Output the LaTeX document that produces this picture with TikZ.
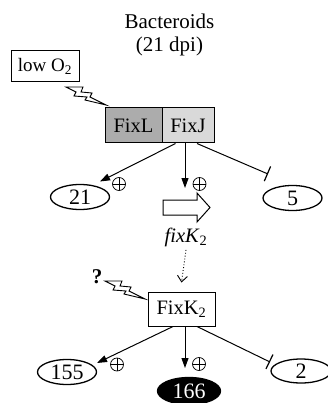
\documentclass[tikz,border=0pt]{standalone}
\usepackage{fontspec}
\setmainfont{Liberation Serif}
\usetikzlibrary{arrows.meta,shapes.geometric,calc}

\begin{document}
\begin{tikzpicture}[x=1pt,y=-1pt,
  lbl/.style={font=\fontsize{20.5}{22}\selectfont},
  boxnode/.style={draw, line width=1pt, inner sep=0pt, lbl},
  oval/.style={ellipse, draw, line width=1.3pt, inner sep=0pt, font=\fontsize{22}{24}\selectfont},
  act/.style={line width=1pt, -{Triangle[length=10pt,width=7pt]}},
  inh/.style={line width=1pt, -{Bar[width=16pt,line width=1.2pt]}},
  sign/.style={circle, draw, line width=0.7pt, minimum size=13pt, inner sep=0pt,
    path picture={\draw[line width=0.7pt]
      (path picture bounding box.north) -- (path picture bounding box.south)
      (path picture bounding box.west) -- (path picture bounding box.east);}},
  bolt/.pic={\draw[line width=0.9pt, fill=white, line join=miter]
    (0,0) -- (17,0) -- (15,5) -- (26,6) -- (24,10) -- (40,18) -- (19,13)
    -- (21,10) -- (8,9) -- (10,5) -- cycle;}
]
\useasboundingbox (0,0) rectangle (328,403);

% title
\node[font=\fontsize{21}{23}\selectfont] (title) at (169.5,21) {Bacteroids};
\node[font=\fontsize{21}{23}\selectfont] (dpi) at (169.5,46) {(21 dpi)};

% oxygen signal and the FixL/FixJ pair
\node[boxnode, minimum width=68pt, minimum height=31pt, font=\fontsize{19}{21}\selectfont] (o2) at (45,66.5) {low O\textsubscript{2}};
\pic at (66,87) {bolt};
\node[boxnode, fill=gray!65, minimum width=57pt, minimum height=35pt] (fixl) at (133.5,125.5) {FixL};
\node[boxnode, fill=gray!30, minimum width=52pt, minimum height=35pt] (fixj) at (188,125.5) {FixJ};

% first-level targets
\node[oval, minimum width=59pt, minimum height=25pt] (e21) at (80,197) {21};
\node[oval, minimum width=59pt, minimum height=25pt] (e5) at (292.5,198) {5};

% fixK2 gene
\draw[line width=1pt, fill=white, line join=miter]
  (163,200) -- (197,200) -- (197,193) -- (210,207.5) -- (197,222) -- (197,215) -- (163,215) -- cycle;
\coordinate (genetop) at (185,188);
\node[lbl] (gene) at (186,237) {\textit{fixK}\textsubscript{2}};

% FixK2 protein
\node[boxnode, minimum width=67pt, minimum height=34pt] (fixk) at (181.5,309) {FixK\textsubscript{2}};
\node[font=\bfseries\fontsize{21}{21}\selectfont] (q) at (97,277) {?};
\pic at (105,281) {bolt};

% second-level targets
\node[oval, minimum width=59pt, minimum height=25pt] (e155) at (67,372) {155};
\node[oval, minimum width=63pt, minimum height=27pt, fill=black, text=white] (e166) at (189,391) {166};
\node[oval, minimum width=60pt, minimum height=24pt] (e2) at (301,371) {2};

% regulation by FixJ
\draw[act] ($(fixj.south west)+(14,0)$) -- ($(e21.center)+(20,-15.5)$);
\draw[act] ($(fixj.south)+(-3,0)$) -- (genetop);
\draw[inh] ($(fixj.south)+(9,0)$) -- ($(e5.center)+(-24.5,-24)$);
\node[sign] (p1) at (119,184) {};
\node[sign] (p2) at (199.5,184) {};

% expression of fixK2
\draw[dotted, line width=0.9pt, -{Straight Barb[length=6pt,width=10pt,line width=0.9pt]}]
  (gene.south) -- ($(fixk.north)+(0,-9)$);

% regulation by FixK2
\draw[act] ($(fixk.south)+(-8.5,0)$) -- ($(e155.center)+(30,-9)$);
\draw[act] ($(fixk.south)+(3.5,0)$) -- ($(e166.center)+(-4,-23)$);
\draw[inh] ($(fixk.south)+(15.5,0)$) -- ($(e2.center)+(-31,-9)$);
\node[sign] (p3) at (117,364.5) {};
\node[sign] (p4) at (199,364) {};
\end{tikzpicture}
\end{document}
